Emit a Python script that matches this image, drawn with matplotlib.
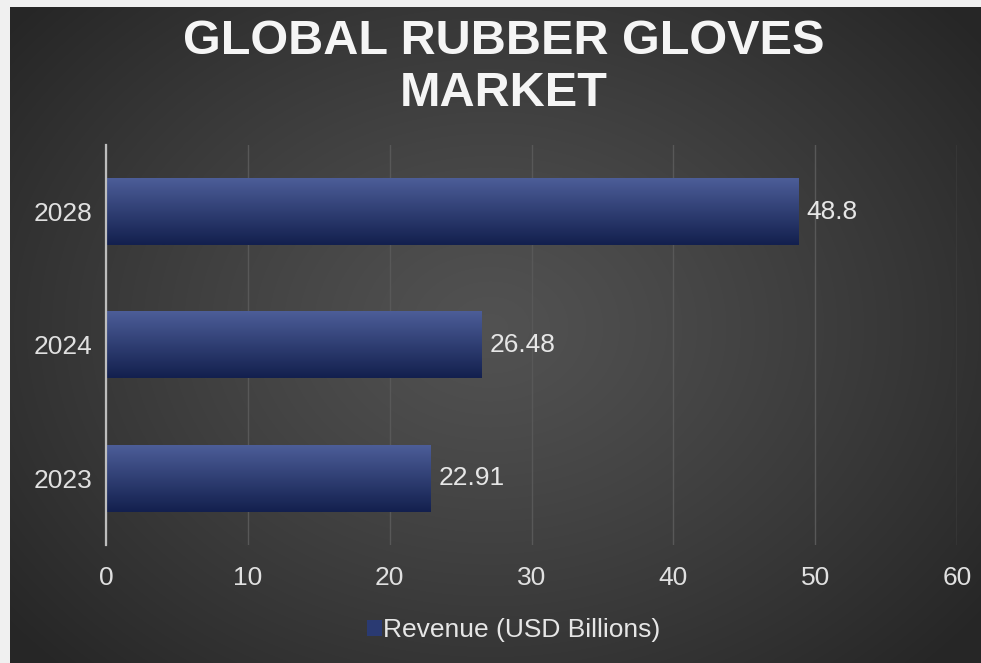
import matplotlib.pyplot as plt
from matplotlib.patches import Patch
import numpy as np

years = ['2023', '2024', '2028']
revenue = [22.91, 26.48, 48.8]
value_labels = ['22.91', '26.48', '48.8']
x_ticks = [0, 10, 20, 30, 40, 50, 60]

W, H = 981, 663
fig = plt.figure(figsize=(W / 100, H / 100), dpi=100)
fig.patch.set_facecolor('#f0f0f0')

# dark panel with a soft radial glow in the middle
bg = fig.add_axes([10 / W, 0, 1 - 10 / W, 1 - 7 / H])
bg.set_axis_off()
yy, xx = np.mgrid[0:H - 7, 0:W - 10]
cx, cy = 480, 320
r = np.sqrt(((xx - cx) / 620.0) ** 2 + ((yy - cy) / 480.0) ** 2)
r = np.clip(r, 0, 1)
shade = 0.32 - (0.32 - 0.15) * r ** 1.2
bg.imshow(np.dstack([shade, shade, shade]), aspect='auto', interpolation='bilinear')

ax = fig.add_axes([106 / W, 1 - 545 / H, (957 - 106) / W, 400 / H])
ax.patch.set_alpha(0)

top_col = np.array([0x4c, 0x5d, 0x98]) / 255
bot_col = np.array([0x13, 0x20, 0x4e]) / 255
t = np.linspace(0, 1, 64)[:, None]
grad = (top_col * (1 - t) + bot_col * t)[:, None, :]

bar_h = 0.5
for i, v in enumerate(revenue):
    # row 0 of the gradient (lighter) sits on the top edge of the bar
    ax.imshow(grad, extent=(0, v, i - bar_h / 2, i + bar_h / 2), aspect='auto',
              interpolation='bilinear', zorder=3)
    ax.text(v + 0.55, i, value_labels[i], va='center', ha='left',
            fontsize=19, color='#e6e6e6', family='Liberation Sans', zorder=4)

ax.set_xlim(0, 60)
ax.set_ylim(-0.5, 2.5)
ax.set_yticks(range(len(years)))
ax.set_yticklabels(years)
ax.set_xticks(x_ticks)
ax.grid(axis='x', color='#585858', linewidth=1.0, zorder=0)
ax.set_axisbelow(True)
for s in ['top', 'right', 'bottom']:
    ax.spines[s].set_visible(False)
ax.spines['left'].set_color('#bdbdbd')
ax.spines['left'].set_linewidth(1.6)
ax.spines['left'].set_zorder(5)
ax.tick_params(length=0, colors='#e0e0e0', labelsize=19)
ax.tick_params(axis='x', pad=15)
ax.tick_params(axis='y', pad=10)
for lbl in ax.get_xticklabels() + ax.get_yticklabels():
    lbl.set_family('Liberation Sans')

fig.text(504 / W, 1 - 68 / H, 'GLOBAL RUBBER GLOVES\nMARKET', ha='center', va='center',
         fontsize=35, fontweight='bold', color='#f5f5f5', family='Liberation Sans',
         linespacing=1.2)

handle = Patch(facecolor='#2a3a72', edgecolor='none')
fig.legend([handle], ['Revenue (USD Billions)'], loc='center', bbox_to_anchor=(514 / W, 1 - 630 / H),
           frameon=False, handlelength=0.55, handleheight=0.55, handletextpad=0.05,
           prop={'family': 'Liberation Sans', 'size': 19}, labelcolor='#e6e6e6')

fig.savefig('out.png', dpi=100, facecolor=fig.get_facecolor())
